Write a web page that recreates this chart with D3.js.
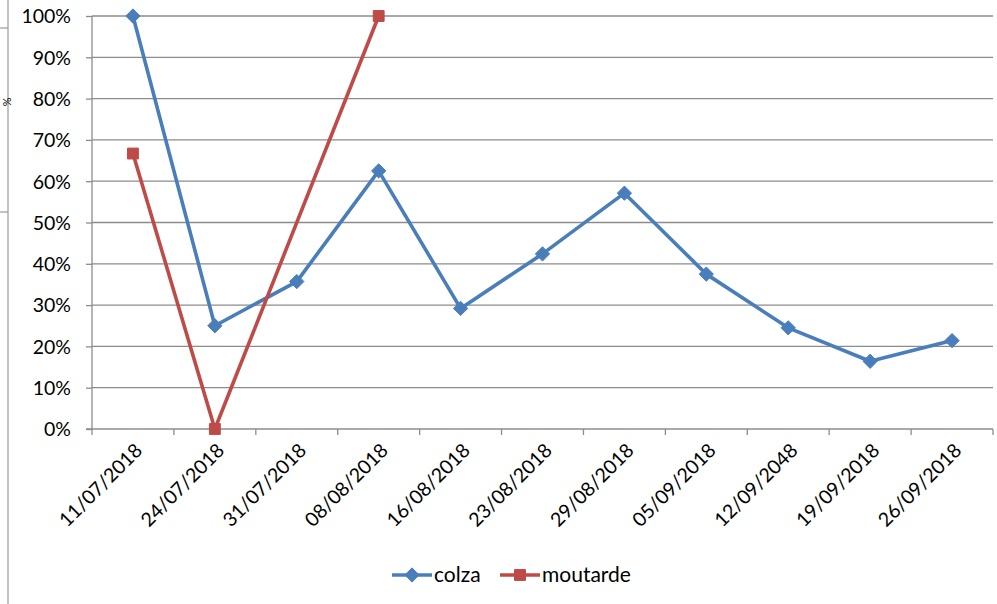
<!DOCTYPE html>
<html><head><meta charset="utf-8">
<script src="https://cdn.jsdelivr.net/npm/d3@7"></script>
<style>body{margin:0;background:#fff;} svg{display:block;} text{font-family:Lato,"Open Sans",sans-serif;fill:#000;}</style>
</head><body><svg id="c" width="997" height="604"></svg>
<script>
const categories = ["11/07/2018","24/07/2018","31/07/2018","08/08/2018","16/08/2018","23/08/2018","29/08/2018","05/09/2018","12/09/2048","19/09/2018","26/09/2018"];
const colza = [1.0, 0.25, 0.357, 0.625, 0.292, 0.424, 0.571, 0.375, 0.245, 0.164, 0.214];
const moutarde = [0.667, 0.0, null, 1.0, null, null, null, null, null, null, null];
const yTicks = [0,0.1,0.2,0.3,0.4,0.5,0.6,0.7,0.8,0.9,1.0];
const seriesNames = ["colza","moutarde"];
const colors = ["#4A7EBB","#BE4B48"];

const svg = d3.select("#c");
const L=92, R=993, T=16, B=429;
const x = d3.scaleBand().domain(categories).range([L,R]);
const y = d3.scaleLinear().domain([0,1]).range([B,T]);

// left frame artifact
svg.append("line").attr("x1",8).attr("x2",8).attr("y1",0).attr("y2",604).attr("stroke","#999").attr("stroke-width",1.2);
svg.append("line").attr("x1",0).attr("x2",8).attr("y1",28).attr("y2",28).attr("stroke","#999").attr("stroke-width",1.2);
svg.append("line").attr("x1",0).attr("x2",8).attr("y1",212).attr("y2",212).attr("stroke","#999").attr("stroke-width",1.2);
svg.append("text").attr("transform","translate(3,102) rotate(90)").attr("font-size",11).attr("text-anchor","middle").text("%");

// gridlines
svg.append("g").selectAll("line").data(yTicks.slice(1)).join("line")
  .attr("x1",L).attr("x2",R).attr("y1",d=>y(d)).attr("y2",d=>y(d))
  .attr("stroke","#8c8c8c").attr("stroke-width",1.3);

// y axis
const yAxis = d3.axisLeft(y).tickValues(yTicks).tickFormat(d=>Math.round(d*100)+"%").tickSize(6).tickPadding(15);
const gy = svg.append("g").attr("transform",`translate(${L},0)`).call(yAxis);
gy.select(".domain").attr("stroke","#8c8c8c").attr("stroke-width",1.3).attr("d",`M0,${T}V${B}`);
gy.selectAll(".tick line").attr("stroke","#8c8c8c").attr("stroke-width",1.3);
gy.selectAll("text").attr("font-size",19.5).attr("font-family","Lato,sans-serif").attr("fill","#000").attr("dy","0.35em");

// x axis
const bounds = categories.map(c=>x(c)).concat([R]);
svg.append("line").attr("x1",L-6).attr("x2",R).attr("y1",B).attr("y2",B).attr("stroke","#8c8c8c").attr("stroke-width",1.3);
svg.append("g").selectAll("line").data(bounds).join("line")
  .attr("x1",d=>d).attr("x2",d=>d).attr("y1",B).attr("y2",B+6).attr("stroke","#8c8c8c").attr("stroke-width",1.3);
svg.append("g").selectAll("text").data(categories).join("text")
  .attr("transform",d=>`translate(${x(d)+x.bandwidth()/2+1},${B+13}) rotate(-45)`)
  .attr("text-anchor","end").attr("dy","0.7em").attr("font-size",19.5).text(d=>d);

const cx = d=>x(d)+x.bandwidth()/2;
const data = [colza, moutarde];
data.forEach((vals,i)=>{
  const pts = categories.map((c,j)=>({c,v:vals[j]})).filter(p=>p.v!==null);
  const line = d3.line().x(p=>cx(p.c)).y(p=>y(p.v));
  svg.append("path").datum(pts).attr("d",line).attr("fill","none").attr("stroke",colors[i]).attr("stroke-width",3.6).attr("stroke-linejoin","round");
  const sym = i===0 ? d3.symbol().type(d3.symbolDiamond2).size(130) : d3.symbol().type(d3.symbolSquare2).size(150);
  svg.append("g").selectAll("path").data(pts).join("path")
    .attr("transform",p=>`translate(${cx(p.c)},${y(p.v)})`)
    .attr("d",sym).attr("fill",colors[i]).attr("stroke",colors[i]).attr("stroke-width",1);
});

// legend
const legX = [392, 500];
seriesNames.forEach((n,i)=>{
  const g = svg.append("g").attr("transform",`translate(${legX[i]},575)`);
  g.append("line").attr("x1",0).attr("x2",40).attr("y1",0).attr("y2",0).attr("stroke",colors[i]).attr("stroke-width",3.6);
  const sym = i===0 ? d3.symbol().type(d3.symbolDiamond2).size(130) : d3.symbol().type(d3.symbolSquare2).size(150);
  g.append("path").attr("transform","translate(20,0)").attr("d",sym).attr("fill",colors[i]).attr("stroke",colors[i]);
  g.append("text").attr("x",42).attr("y",0).attr("dy","0.35em").attr("font-size",21).text(n);
});
</script></body></html>
